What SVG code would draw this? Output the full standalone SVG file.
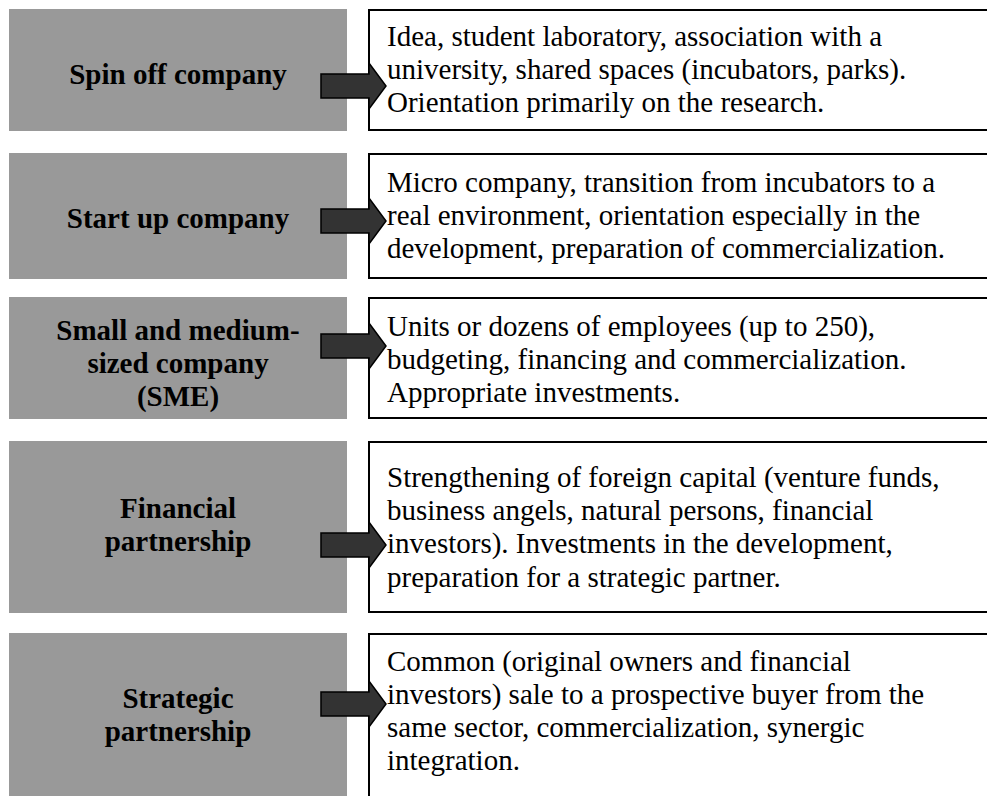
<svg xmlns="http://www.w3.org/2000/svg" width="987" height="796" viewBox="0 0 987 796">
<style>
.stage{fill:#999999;stroke:none}
.box{fill:#ffffff;stroke:#000000;stroke-width:2}
.lbl{font-family:"Liberation Serif","Times New Roman",serif;font-size:29px;font-weight:bold;fill:#000;text-anchor:middle}
.txt{font-family:"Liberation Serif","Times New Roman",serif;font-size:29px;fill:#000}
.arr{fill:#333333;stroke:#000000;stroke-width:1.5;stroke-linejoin:miter}
</style>
<defs>
<path id="arrow" d="M321,-12 L369,-12 L369,-23 L386,0 L369,23 L369,12 L321,12 Z"/>
</defs>
<rect width="987" height="796" fill="#ffffff"/>

<g id="row1">
<rect class="stage" x="9" y="9" width="338" height="122"/>
<text class="lbl" x="178" y="84">Spin off company</text>
<rect class="box" x="369" y="10" width="640" height="120"/>
<text class="txt"><tspan x="387" y="46">Idea, student laboratory, association with a</tspan><tspan x="387" y="79">university, shared spaces (incubators, parks).</tspan><tspan x="387" y="112">Orientation primarily on the research.</tspan></text>
</g>

<g id="row2">
<rect class="stage" x="9" y="153" width="338" height="126"/>
<text class="lbl" x="178" y="228">Start up company</text>
<rect class="box" x="369" y="154" width="640" height="124"/>
<text class="txt"><tspan x="387" y="192">Micro company, transition from incubators to a</tspan><tspan x="387" y="225">real environment, orientation especially in the</tspan><tspan x="387" y="258">development, preparation of commercialization.</tspan></text>
</g>

<g id="row3">
<rect class="stage" x="9" y="297" width="338" height="122"/>
<text class="lbl"><tspan x="178" y="340">Small and medium-</tspan><tspan x="178" y="373">sized company</tspan><tspan x="178" y="406">(SME)</tspan></text>
<rect class="box" x="369" y="298" width="640" height="120"/>
<text class="txt"><tspan x="387" y="336">Units or dozens of employees (up to 250),</tspan><tspan x="387" y="369">budgeting, financing and commercialization.</tspan><tspan x="387" y="402">Appropriate investments.</tspan></text>
</g>

<g id="row4">
<rect class="stage" x="9" y="441" width="338" height="172"/>
<text class="lbl"><tspan x="178" y="518">Financial</tspan><tspan x="178" y="551">partnership</tspan></text>
<rect class="box" x="369" y="442" width="640" height="170"/>
<text class="txt"><tspan x="387" y="487">Strengthening of foreign capital (venture funds,</tspan><tspan x="387" y="520">business angels, natural persons, financial</tspan><tspan x="387" y="553">investors). Investments in the development,</tspan><tspan x="387" y="587">preparation for a strategic partner.</tspan></text>
</g>

<g id="row5">
<rect class="stage" x="9" y="633" width="338" height="170"/>
<text class="lbl"><tspan x="178" y="708">Strategic</tspan><tspan x="178" y="741">partnership</tspan></text>
<rect class="box" x="369" y="634" width="640" height="180"/>
<text class="txt"><tspan x="387" y="671">Common (original owners and financial</tspan><tspan x="387" y="704">investors) sale to a prospective buyer from the</tspan><tspan x="387" y="737">same sector, commercialization, synergic</tspan><tspan x="387" y="770">integration.</tspan></text>
</g>

<g id="connectors">
<use href="#arrow" class="arr" transform="translate(0,86)"/>
<use href="#arrow" class="arr" transform="translate(0,221)"/>
<use href="#arrow" class="arr" transform="translate(0,346)"/>
<use href="#arrow" class="arr" transform="translate(0,545)"/>
<use href="#arrow" class="arr" transform="translate(0,704)"/>
</g>
</svg>
